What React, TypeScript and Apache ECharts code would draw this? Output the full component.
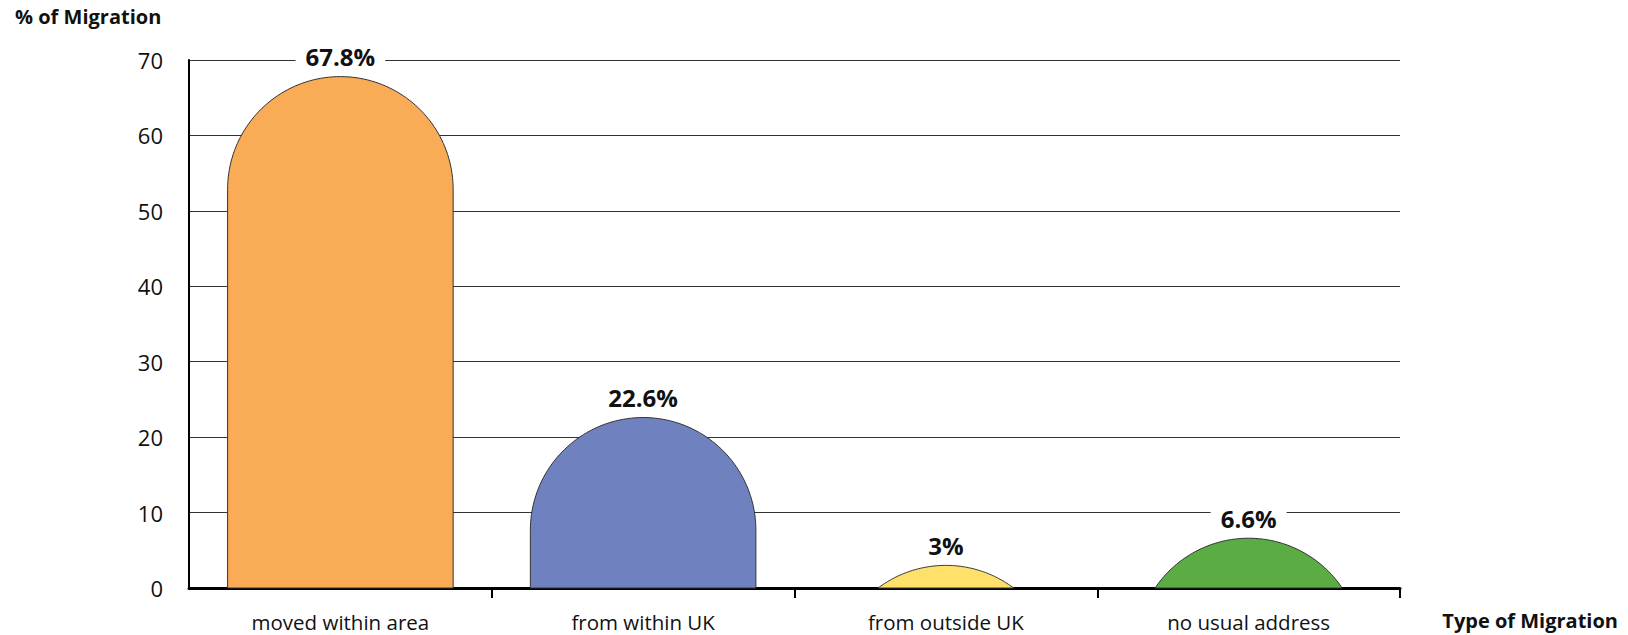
import React, { useEffect, useRef } from "react";
import * as echarts from "echarts";

const categories = ["moved within area", "from within UK", "from outside UK", "no usual address"];
const values = [67.8, 22.6, 3, 6.6];
const colors = ["#F9AB55", "#7081BF", "#FDE16B", "#5BAC42"];
const yTicks = { min: 0, max: 70, interval: 10 };
const yName = "% of Migration";
const xName = "Type of Migration";

const FONT = '"Open Sans", "Liberation Sans", sans-serif';
const BAR_RATIO = 0.745;

export default function App() {
  const ref = useRef<HTMLDivElement>(null);
  useEffect(() => {
    document.body.style.margin = "0";
    const chart = echarts.init(ref.current!, null, { renderer: "svg" });
    const option: any = {
      animation: false,
      backgroundColor: "#fff",
      grid: { left: 189, right: 228, top: 60, bottom: 47, containLabel: false },
      xAxis: {
        type: "category",
        data: categories,
        boundaryGap: true,
        axisLine: { show: true, lineStyle: { color: "#000", width: 3 } },
        axisTick: {
          show: true,
          interval: (i: number) => i !== 0,
          length: 10,
          lineStyle: { color: "#000", width: 2 },
        },
        axisLabel: { margin: 23, fontSize: 20.5, color: "#111", fontFamily: FONT },
        splitLine: { show: false },
      },
      yAxis: {
        type: "value",
        min: yTicks.min,
        max: yTicks.max,
        interval: yTicks.interval,
        axisLine: { show: true, lineStyle: { color: "#000", width: 2 } },
        axisTick: { show: false },
        axisLabel: { margin: 26, fontSize: 22, color: "#111", fontFamily: FONT },
        splitLine: { show: true, lineStyle: { color: "#333", width: 1 } },
      },
      graphic: [
        {
          type: "text",
          left: 15,
          top: 6,
          style: { text: yName, font: `bold 20px ${FONT}`, fill: "#111" },
        },
        {
          type: "text",
          right: 10,
          top: 610,
          style: { text: xName, font: `bold 20px ${FONT}`, fill: "#111" },
        },
      ],
      series: [
        {
          type: "custom",
          data: values.map((v, i) => [i, v]),
          encode: { x: 0, y: 1 },
          z: 3,
          renderItem: (params: any, api: any) => {
            const idx = api.value(0);
            const v = api.value(1);
            const base = api.coord([idx, 0]);
            const top = api.coord([idx, v]);
            const band = api.size([1, 0])[0];
            const R = (band * BAR_RATIO) / 2;
            const cx = base[0];
            const baseY = base[1];
            const topY = top[1];
            const h = baseY - topY;
            const cy = topY + R;
            const N = 90;
            const pts: number[][] = [];
            if (h >= R) {
              pts.push([cx - R, baseY]);
              for (let i = 0; i <= N; i++) {
                const a = Math.PI - (Math.PI * i) / N;
                pts.push([cx + R * Math.cos(a), cy - R * Math.sin(a)]);
              }
              pts.push([cx + R, baseY]);
            } else {
              const d = cy - baseY;
              const a0 = Math.asin(Math.min(1, d / R));
              for (let i = 0; i <= N; i++) {
                const a = Math.PI - a0 - ((Math.PI - 2 * a0) * i) / N;
                pts.push([cx + R * Math.cos(a), cy - R * Math.sin(a)]);
              }
            }
            return {
              type: "group",
              children: [
                {
                  type: "polygon",
                  shape: { points: pts },
                  style: { fill: colors[idx], stroke: "#333", lineWidth: 1 },
                },
                {
                  type: "text",
                  style: {
                    text: `${v}%`,
                    x: cx,
                    y: topY - 20,
                    align: "center",
                    verticalAlign: "middle",
                    font: `bold 24px ${FONT}`,
                    fill: "#111",
                    backgroundColor: "#fff",
                    padding: [2, 10],
                  },
                },
              ],
            };
          },
        },
      ],
    };
    chart.setOption(option);
    return () => chart.dispose();
  }, []);
  return <div ref={ref} style={{ width: 1628, height: 635 }} />;
}
